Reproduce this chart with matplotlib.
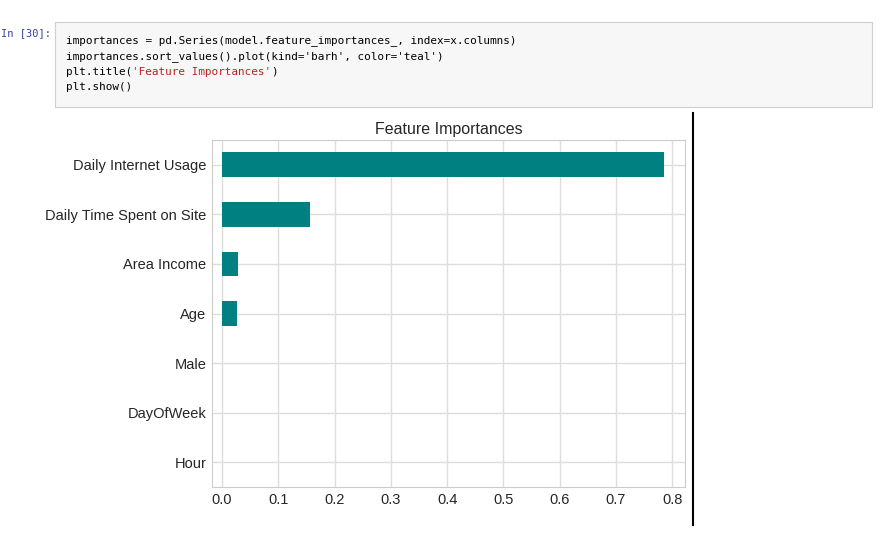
import matplotlib.pyplot as plt

features = ['Hour', 'DayOfWeek', 'Male', 'Age', 'Area Income',
            'Daily Time Spent on Site', 'Daily Internet Usage']
importances = [0.0, 0.0, 0.0005, 0.027, 0.029, 0.157, 0.785]
xticks = [0.0, 0.1, 0.2, 0.3, 0.4, 0.5, 0.6, 0.7, 0.8]

code_lines = [
    "importances = pd.Series(model.feature_importances_, index=x.columns)",
    "importances.sort_values().plot(kind='barh', color='teal')",
    "plt.title('Feature Importances')",
    "plt.show()",
]

W, H = 891, 533
MONO = 'DejaVu Sans Mono'
FS = 7.9
CW = 0.602 * FS * 100 / 72  # px per monospace char

fig = plt.figure(figsize=(W / 100, H / 100), dpi=100)

# notebook code cell
fig.text(1 / W, 1 - 33 / H, 'In [30]:', family=MONO, fontsize=7.5,
         color='#303f9f', va='center')
box = fig.add_axes([55 / W, 1 - 107 / H, 817 / W, 85 / H])
box.set_xticks([])
box.set_yticks([])
box.set_facecolor('#f7f7f7')
for s in box.spines.values():
    s.set_color('#cfcfcf')
for i, line in enumerate(code_lines):
    y = 1 - (41 + i * 15.5) / H
    if line.startswith('plt.title'):
        parts = [("plt.title(", 'black'), ("'Feature Importances'", '#ba2121'), (")", 'black')]
        x = 66
        for txt, c in parts:
            fig.text(x / W, y, txt, family=MONO, fontsize=FS, va='center', color=c)
            x += len(txt) * CW
    else:
        fig.text(66 / W, y, line, family=MONO, fontsize=FS, va='center')

# vertical divider line
fig.add_artist(plt.Line2D([693 / W, 693 / W], [1 - 113 / H, 1 - 525 / H], color='black', lw=1.5))

# chart
ax = fig.add_axes([212 / W, 1 - 487 / H, 473 / W, 347 / H])
ax.barh(features, importances, height=0.5, color='teal', zorder=2)
ax.set_xlim(-0.018, 0.823)
ax.set_ylim(-0.5, len(features) - 0.5)
ax.set_xticks(xticks)
ax.set_xticklabels([f'{t:.1f}' for t in xticks])
ax.grid(True, color='#dddddd', lw=1, zorder=0)
ax.set_axisbelow(True)
for s in ax.spines.values():
    s.set_color('#cccccc')
for lab in ax.get_xticklabels() + ax.get_yticklabels():
    lab.set_family('Liberation Sans')
ax.tick_params(length=0, labelsize=10.5, colors='#262626', pad=4)
ax.set_title('Feature Importances', fontsize=11.5, color='#262626', pad=4,
             family='Liberation Sans')

fig.savefig('out.png', dpi=100)
